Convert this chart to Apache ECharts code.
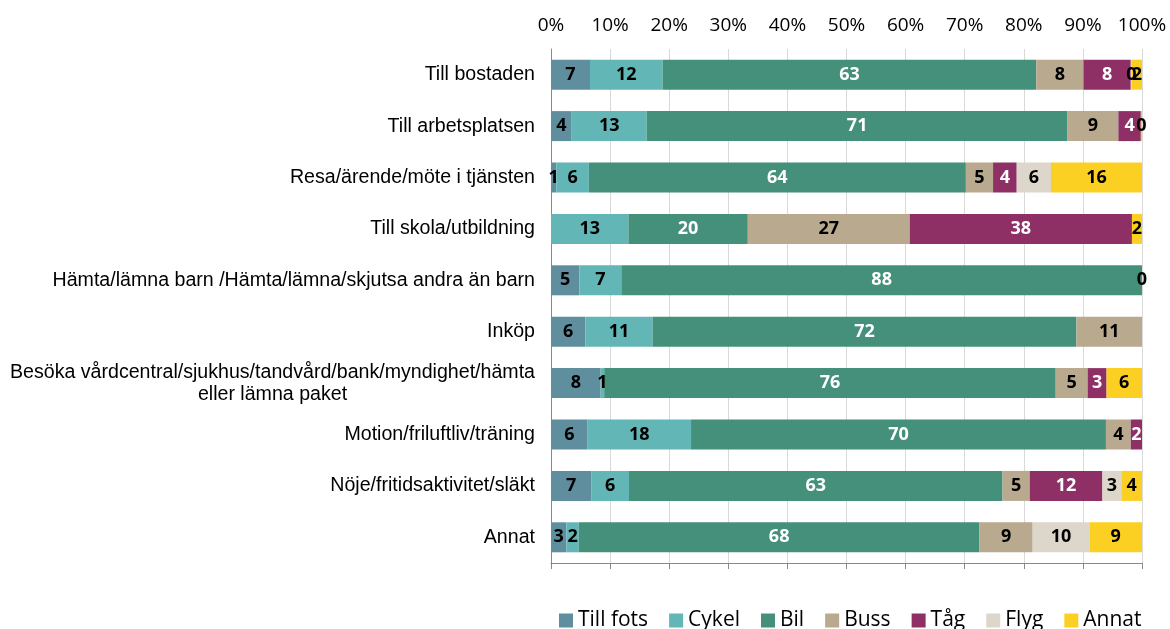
<!DOCTYPE html>
<html>
<head>
<meta charset="utf-8">
<script src="https://cdn.jsdelivr.net/npm/echarts@6/dist/echarts.min.js"></script>
<style>
  html, body { margin: 0; padding: 0; background: #fff; }
  #chart { width: 1170px; height: 629px; }
</style>
</head>
<body>
<div id="chart"></div>
<script>
// kategorier (ärende)
const categories = [
  'Till bostaden',
  'Till arbetsplatsen',
  'Resa/ärende/möte i tjänsten',
  'Till skola/utbildning',
  'Hämta/lämna barn /Hämta/lämna/skjutsa andra än barn',
  'Inköp',
  'Besöka vårdcentral/sjukhus/tandvård/bank/myndighet/hämta\neller lämna paket',
  'Motion/friluftliv/träning',
  'Nöje/fritidsaktivitet/släkt',
  'Annat'
]

// andel (%) per färdsätt
const tillFots = [6.6, 3.5, 0.9, null, 4.8, 5.8, 8.4, 6.2, 6.8, 2.6]
const cykel = [12.3, 12.7, 5.5, 13.1, 7.1, 11.4, 0.6, 17.5, 6.4, 2.1]
const bil = [63.2, 71.2, 63.8, 20.2, 88.1, 71.7, 76.4, 70.2, 63.2, 67.8]
const buss = [8.0, 8.6, 4.6, 27.4, null, 11.1, 5.4, 4.2, 4.6, 9.0]
const tag = [8.0, 3.8, 4.0, 37.6, null, null, 3.2, 1.9, 12.3, null]
const flyg = [0.2, null, 5.8, null, null, null, null, null, 3.2, 9.6]
const annat = [1.7, 0.2, 15.5, 1.7, 0, null, 6.2, null, 3.5, 9.0]

const xTicks = [0, 10, 20, 30, 40, 50, 60, 70, 80, 90, 100]

const seriesDefs = [
  { name: 'Till fots', data: tillFots, color: '#5F8F9E', text: '#000' },
  { name: 'Cykel', data: cykel, color: '#62B6B6', text: '#000' },
  { name: 'Bil', data: bil, color: '#44907A', text: '#fff' },
  { name: 'Buss', data: buss, color: '#B8A98F', text: '#000' },
  { name: 'Tåg', data: tag, color: '#8E3066', text: '#fff' },
  { name: 'Flyg', data: flyg, color: '#DDD6CB', text: '#000' },
  { name: 'Annat', data: annat, color: '#FCD022', text: '#000' }
]

const chart = echarts.init(document.getElementById('chart'))

chart.setOption({
  animation: false,
  textStyle: { fontFamily: 'Open Sans' },
  grid: { left: 551, right: 28, top: 49, bottom: 66 },
  legend: {
    left: 554,
    top: 605,
    itemWidth: 14,
    itemHeight: 14,
    itemGap: 21,
    icon: 'rect',
    textStyle: { fontSize: 21, color: '#000', fontFamily: 'Open Sans' },
    data: seriesDefs.map(s => s.name)
  },
  xAxis: [{
    type: 'value',
    position: 'top',
    min: 0,
    max: 100,
    interval: 10,
    axisLabel: {
      formatter: v => xTicks.indexOf(v) >= 0 ? v + '%' : '',
      fontSize: 19,
      color: '#000',
      margin: 14
    },
    axisLine: { show: false },
    axisTick: { show: false },
    splitLine: { lineStyle: { color: '#D9D9D9', width: 1 } }
  }, {
    type: 'value',
    position: 'bottom',
    min: 0,
    max: 100,
    interval: 10,
    axisLabel: { show: false },
    axisLine: { show: true, lineStyle: { color: '#898989' } },
    axisTick: { show: true, length: 6, lineStyle: { color: '#898989' } },
    splitLine: { show: false }
  }],
  yAxis: {
    type: 'category',
    inverse: true,
    data: categories,
    axisLine: { lineStyle: { color: '#898989' } },
    axisTick: { length: 6, lineStyle: { color: '#898989' } },
    axisLabel: {
      fontFamily: 'Liberation Sans',
      fontSize: 19.6,
      color: '#000',
      margin: 16,
      lineHeight: 22,
      formatter: v => {
        if (v.indexOf('\n') < 0) return v
        return v.split('\n').map(l => '{c|' + l + '}').join('\n')
      },
      rich: {
        c: { width: 525, align: 'center', fontFamily: 'Liberation Sans', fontSize: 19.6, color: '#000', lineHeight: 22 }
      }
    }
  },
  series: seriesDefs.map(s => ({
    name: s.name,
    type: 'bar',
    stack: 'total',
    barWidth: 30,
    data: s.data,
    itemStyle: { color: s.color },
    label: {
      show: true,
      position: 'inside',
      formatter: p => p.value == null ? '' : String(Math.round(p.value)),
      color: s.text,
      fontFamily: 'Open Sans',
      fontWeight: 'bold',
      fontSize: 18
    }
  }))
})
</script>
</body>
</html>
